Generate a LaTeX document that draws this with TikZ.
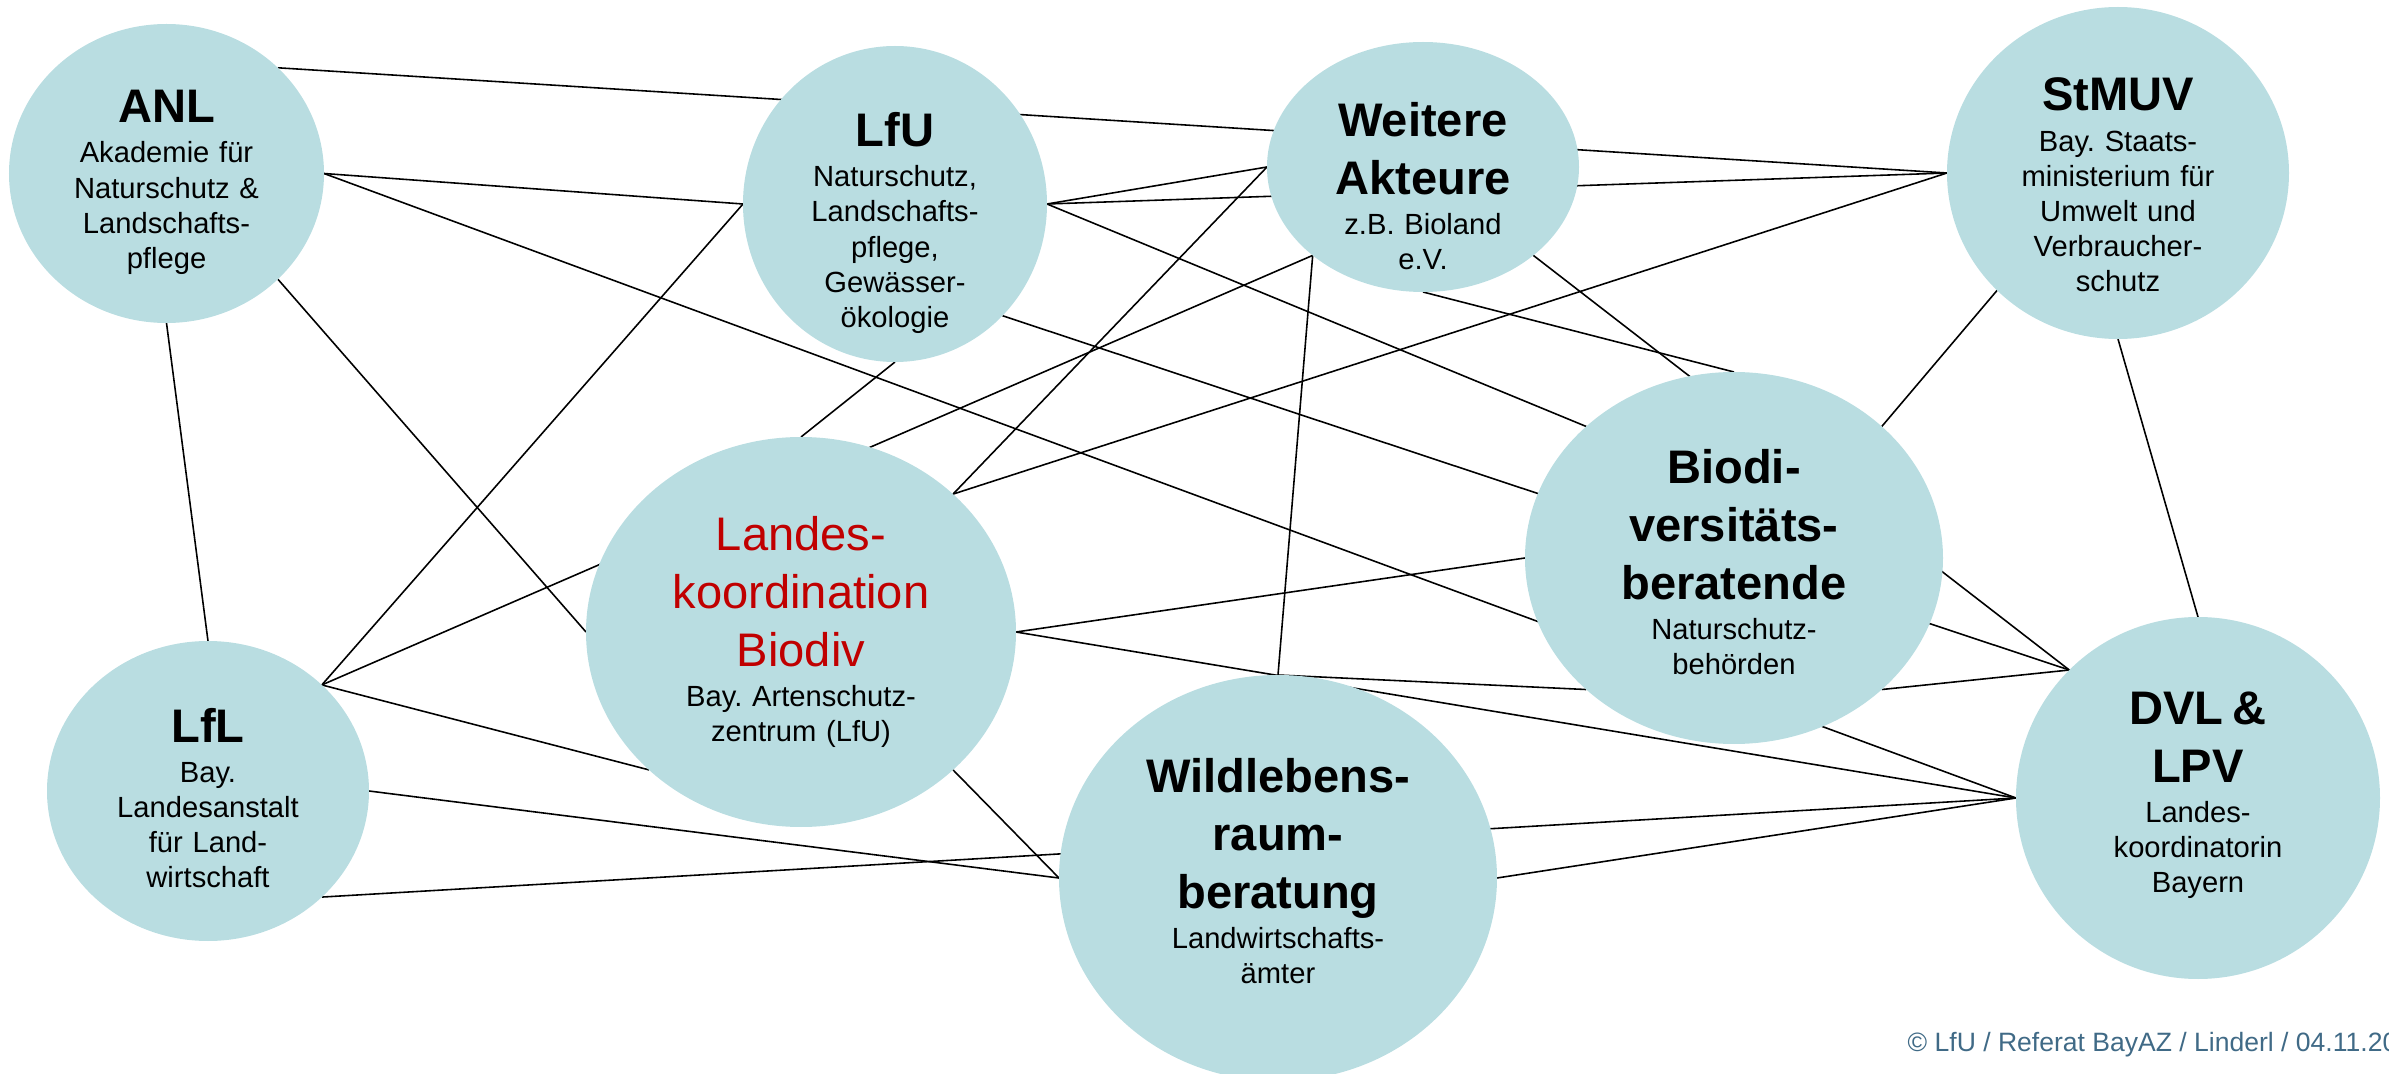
\documentclass[tikz,border=0pt]{standalone}
\usepackage{fontspec}
\setmainfont{Liberation Sans}
\usepackage{xcolor}
\usepackage{tikz}
\usetikzlibrary{shapes.geometric, backgrounds}

\definecolor{bubble}{RGB}{185,221,225}
\definecolor{coordred}{RGB}{192,0,0}
\definecolor{footblue}{RGB}{64,106,134}

\frenchspacing
\newcommand{\actorhead}[1]{{\fontsize{13.4}{16.5}\selectfont\bfseries #1\par}\vspace{1.4pt}}
\newcommand{\coordhead}[1]{{\fontsize{13.4}{16.5}\selectfont\color{coordred}#1\par}\vspace{1.4pt}}

\begin{document}
\begin{tikzpicture}[
    actor/.style={ellipse, fill=bubble, inner sep=0pt, outer sep=0pt},
    caption/.style={text width=4.2cm, align=center, inner sep=0pt, font=\fontsize{8.3}{10}\selectfont},
    link/.style={line width=0.45pt, black}
]
    \useasboundingbox (0,0) rectangle (23.89,10.73);

    % Top Row
    \node[actor, minimum width=3.15cm, minimum height=2.99cm] (anl) at (1.665,8.995) {};
    \node[actor, minimum width=3.04cm, minimum height=3.16cm] (lfu) at (8.95,8.69) {};
    \node[actor, minimum width=3.12cm, minimum height=2.50cm] (weitere) at (14.23,9.06) {};
    \node[actor, minimum width=3.42cm, minimum height=3.32cm] (stmuv) at (21.18,9.00) {};

    % Middle Row
    \node[actor, minimum width=4.30cm, minimum height=3.90cm] (landes) at (8.01,4.41) {};
    \node[actor, minimum width=4.18cm, minimum height=3.72cm] (biodiv) at (17.34,5.15) {};

    % Bottom Row
    \node[actor, minimum width=3.22cm, minimum height=3.00cm] (lfl) at (2.08,2.82) {};
    \node[actor, minimum width=4.38cm, minimum height=4.06cm] (wild) at (12.78,1.95) {};
    \node[actor, minimum width=3.64cm, minimum height=3.62cm] (dvl) at (21.98,2.75) {};

    % Texts
    \node[caption] (anl-text) at ([yshift=-0.09cm]anl.center) {\actorhead{ANL}Akademie für\\Naturschutz \&\\Landschafts-\\pflege};
    \node[caption] (lfu-text) at ([yshift=-0.19cm]lfu.center) {\actorhead{LfU}Naturschutz,\\Landschafts-\\pflege,\\Gewässer-\\ökologie};
    \node[caption] (weitere-text) at ([yshift=-0.19cm]weitere.center) {\actorhead{Weitere\\Akteure}z.B. Bioland\\e.V.};
    \node[caption] (stmuv-text) at ([yshift=-0.12cm]stmuv.center) {\actorhead{StMUV}Bay. Staats-\\ministerium für\\Umwelt und\\Verbraucher-\\schutz};
    \node[caption] (landes-text) at (landes.center) {\coordhead{Landes-\\koordination\\Biodiv}Bay. Artenschutz-\\zentrum (LfU)};
    \node[caption] (biodiv-text) at ([yshift=-0.04cm]biodiv.center) {\actorhead{Biodi-\\versitäts-\\beratende}Naturschutz-\\behörden};
    \node[caption] (lfl-text) at ([yshift=-0.07cm]lfl.center) {\actorhead{LfL}Bay.\\Landesanstalt\\für Land-\\wirtschaft};
    \node[caption] (wild-text) at ([yshift=0.07cm]wild.center) {\actorhead{Wildlebens-\\raum-\\beratung}Landwirtschafts-\\ämter};
    \node[caption] (dvl-text) at ([yshift=0.03cm]dvl.center) {\actorhead{DVL \&\\LPV}Landes-\\koordinatorin\\Bayern};

    % Footer
    \node[anchor=base west, inner sep=0pt, text=footblue, font=\fontsize{7.55}{9}\selectfont] (footer) at (19.07,0.22) {© LfU / Referat BayAZ / Linderl / 04.11.20};

    % Links (behind the bubbles)
    \begin{scope}[on background layer]
    \draw[link] (anl.north east) -- (stmuv.west);
    \draw[link] (anl.east) -- (lfu.west);
    \draw[link] (anl.east) -- (dvl.west);
    \draw[link] (anl.south east) -- (landes.west);
    \draw[link] (anl.south) -- (lfl.north);
    \draw[link] (lfu.west) -- (lfl.north east);
    \draw[link] (lfu.east) -- (weitere.west);
    \draw[link] (lfu.east) -- (stmuv.west);
    \draw[link] (lfu.east) -- (biodiv.north west);
    \draw[link] (lfu.south east) -- (dvl.north west);
    \draw[link] (lfu.south) -- (landes.north);
    \draw[link] (weitere.west) -- (landes.north east);
    \draw[link] (weitere.south west) -- (lfl.north east);
    \draw[link] (weitere.south west) -- (wild.north);
    \draw[link] (weitere.south) -- (biodiv.north);
    \draw[link] (weitere.south east) -- (dvl.north west);
    \draw[link] (landes.north east) -- (stmuv.west);
    \draw[link] (stmuv.south west) -- (biodiv.north east);
    \draw[link] (stmuv.south) -- (dvl.north);
    \draw[link] (landes.east) -- (biodiv.west);
    \draw[link] (landes.east) -- (dvl.west);
    \draw[link] (landes.south east) -- (wild.west);
    \draw[link] (lfl.north east) -- (landes.south west);
    \draw[link] (lfl.east) -- (wild.west);
    \draw[link] (lfl.south east) -- (dvl.west);
    \draw[link] (wild.north) -- (biodiv.south west);
    \draw[link] (wild.east) -- (dvl.west);
    \draw[link] (biodiv.south east) -- (dvl.north west);
    \end{scope}

\end{tikzpicture}
\end{document}
